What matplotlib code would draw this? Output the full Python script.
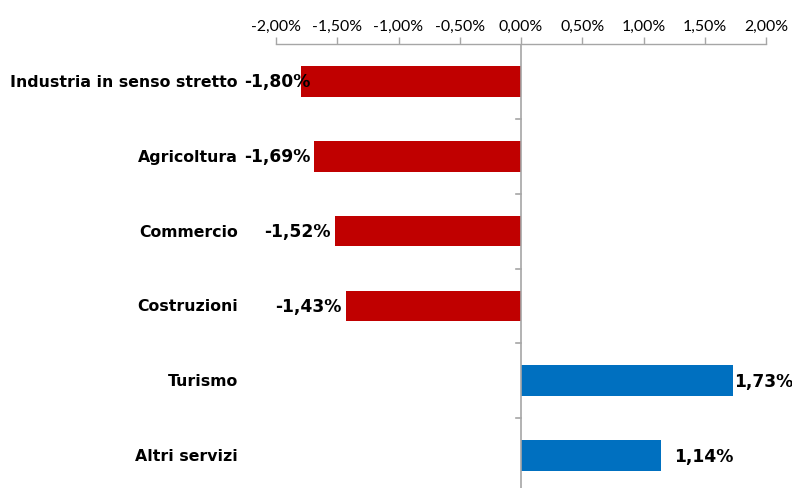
import matplotlib
matplotlib.use("Agg")
import matplotlib.pyplot as plt
import matplotlib.transforms as mtransforms
import numpy as np

categories = ["Industria in senso stretto", "Agricoltura", "Commercio",
              "Costruzioni", "Turismo", "Altri servizi"]
values = [-1.80, -1.69, -1.52, -1.43, 1.73, 1.14]
tick_values = [-2.0, -1.5, -1.0, -0.5, 0.0, 0.5, 1.0, 1.5, 2.0]

RED = "#C00000"
BLUE = "#0070C0"
AXIS = "#A6A6A6"

def pct(v):
    return f"{v:.2f}%".replace(".", ",")

fig = plt.figure(figsize=(7.92, 4.89), dpi=100)
W, H = 792, 489
ax = fig.add_axes([276 / W, 1 - 494 / H, (766 - 276) / W, (494 - 45) / H])

y = np.arange(len(categories))
colors = [RED if v < 0 else BLUE for v in values]
ax.barh(y, values, height=0.41, color=colors, zorder=2)

ax.set_xlim(-2.0, 2.0)
ax.set_ylim(len(categories) - 0.5, -0.5)

# top x axis
ax.xaxis.set_ticks_position("top")
ax.set_xticks(tick_values)
ax.set_xticklabels([pct(t) for t in tick_values], fontfamily="Lato", fontsize=11.4)
ax.tick_params(axis="x", direction="out", length=5, width=1, color=AXIS, pad=3)
for s in ["bottom", "left", "right"]:
    ax.spines[s].set_visible(False)
ax.spines["top"].set_color(AXIS)
ax.spines["top"].set_linewidth(1)

# y axis at zero
ax.axvline(0, color=AXIS, lw=1.2, zorder=3)
ax.set_yticks([])

# tick marks on y axis (left, outward) at category boundaries
for b in np.arange(0.5, len(categories) - 0.5, 1.0):
    xd = ax.transData.transform((0, b))
    fig.add_artist(plt.Line2D([xd[0] - 5, xd[0]], [xd[1], xd[1]],
                              transform=None, color=AXIS, lw=1.2))

# category labels
lab_tr = mtransforms.blended_transform_factory(fig.transFigure, ax.transData)
for yi, c in zip(y, categories):
    ax.text(238 / W, yi, c, transform=lab_tr, ha="right", va="center",
            fontsize=11.3, fontweight="bold", family="DejaVu Sans", color="black")

# data labels
DL = dict(fontsize=12.3, fontweight="bold", family="DejaVu Sans", color="black",
          va="center", zorder=4)
for yi, v in zip(y, values):
    if v < 0:
        if v <= -1.6:
            ax.text(244 / W, yi, pct(v), transform=lab_tr, ha="left", **DL)
        else:
            ax.annotate(pct(v), xy=(v, yi), xytext=(-3, 0), textcoords="offset points",
                        ha="right", **DL)
    else:
        if v >= 1.6:
            ax.text(793 / W, yi, pct(v), transform=lab_tr, ha="right", **DL)
        else:
            ax.annotate(pct(v), xy=(v, yi), xytext=(10, 0), textcoords="offset points",
                        ha="left", **DL)

fig.savefig("out.png", dpi=100)
